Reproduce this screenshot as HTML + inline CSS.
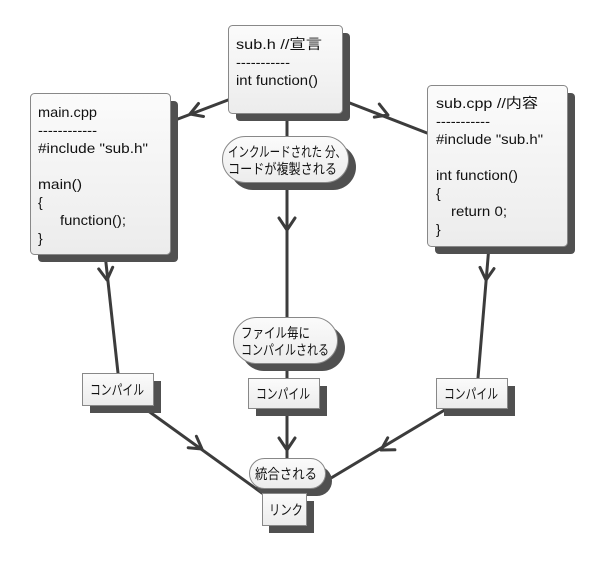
<!DOCTYPE html>
<html><head><meta charset="utf-8"><style>
html,body{margin:0;padding:0;background:#fff;}
svg text{font-family:"Liberation Sans","Noto Sans CJK JP",sans-serif;font-size:14px;fill:#111;}
</style></head><body>
<svg width="602" height="559" viewBox="0 0 602 559" xmlns="http://www.w3.org/2000/svg">
<defs>
<linearGradient id="g" x1="0" y1="0" x2="0" y2="1"><stop offset="0" stop-color="#fbfbfb"/><stop offset="1" stop-color="#ececec"/></linearGradient>
</defs>
<g stroke="#3c3c3c" stroke-width="3" fill="none" stroke-linecap="round" stroke-linejoin="round">
<line x1="228" y1="100" x2="170" y2="122"/>
<polyline points="198.5,103.5 190,114 203.5,116.5"/>
<line x1="342" y1="100" x2="427" y2="133"/>
<polyline points="374.3,117.1 388,115 379.3,104.1"/>
<line x1="287" y1="113" x2="287" y2="460"/>
<polyline points="279,218 287,230 295,218"/>
<polyline points="279,438 287,450 295,438"/>
<line x1="105" y1="254" x2="118" y2="373"/>
<polyline points="98.7,268.9 107,280 112.7,267.3"/>
<line x1="489" y1="246" x2="478" y2="378"/>
<polyline points="480,267.4 486,280 494,268.6"/>
<line x1="140" y1="405" x2="262" y2="493"/>
<polyline points="188.2,447.7 202,449 196.4,436.3"/>
<line x1="448" y1="408" x2="306" y2="493"/>
<polyline points="387.7,437.8 381,450 394.9,449.8"/>
</g>
<g fill="#505050">
<rect x="236" y="33" width="114" height="88" rx="4"/>
<rect x="38" y="101" width="140" height="161" rx="4"/>
<rect x="435" y="93" width="140" height="161" rx="4"/>
<rect x="230" y="144" width="126" height="46" rx="23"/>
<rect x="241" y="325" width="104" height="46" rx="23"/>
<rect x="90" y="381" width="71" height="32"/>
<rect x="256" y="386" width="71" height="30"/>
<rect x="444" y="386" width="71" height="30"/>
<rect x="255" y="466" width="77" height="30" rx="15"/>
<rect x="269" y="501" width="45" height="32"/>
</g>
<g fill="url(#g)" stroke="#888" stroke-width="1">
<rect x="228.5" y="25.5" width="114" height="88" rx="4"/>
<rect x="30.5" y="93.5" width="140" height="161" rx="4"/>
<rect x="427.5" y="85.5" width="140" height="161" rx="4"/>
<rect x="222.5" y="136.5" width="126" height="46" rx="23"/>
<rect x="233.5" y="317.5" width="104" height="46" rx="23"/>
<rect x="82.5" y="373.5" width="71" height="32"/>
<rect x="248.5" y="378.5" width="71" height="30"/>
<rect x="436.5" y="378.5" width="71" height="30"/>
<rect x="249.5" y="458.5" width="76" height="30" rx="15"/>
<rect x="262.5" y="493.5" width="44" height="32"/>
</g>
<text x="236" y="49" textLength="86" lengthAdjust="spacingAndGlyphs">sub.h  //宣言</text>
<text x="236" y="67" textLength="54" lengthAdjust="spacingAndGlyphs">-----------</text>
<text x="236" y="85" textLength="82" lengthAdjust="spacingAndGlyphs">int function()</text>
<text x="38" y="117" textLength="59" lengthAdjust="spacingAndGlyphs">main.cpp</text>
<text x="38" y="135" textLength="59" lengthAdjust="spacingAndGlyphs">------------</text>
<text x="38" y="153" textLength="110" lengthAdjust="spacingAndGlyphs">#include "sub.h"</text>
<text x="38" y="189" textLength="44" lengthAdjust="spacingAndGlyphs">main()</text>
<text x="38" y="207">{</text>
<text x="60" y="225" textLength="66" lengthAdjust="spacingAndGlyphs">function();</text>
<text x="38" y="243">}</text>
<text x="436" y="108" textLength="102" lengthAdjust="spacingAndGlyphs">sub.cpp  //内容</text>
<text x="436" y="126" textLength="54" lengthAdjust="spacingAndGlyphs">-----------</text>
<text x="436" y="144" textLength="107" lengthAdjust="spacingAndGlyphs">#include "sub.h"</text>
<text x="436" y="180" textLength="82" lengthAdjust="spacingAndGlyphs">int function()</text>
<text x="436" y="198">{</text>
<text x="451" y="216" textLength="56" lengthAdjust="spacingAndGlyphs">return 0;</text>
<text x="436" y="234">}</text>
<text x="228" y="157" textLength="118" lengthAdjust="spacingAndGlyphs">インクルードされた 分、</text>
<text x="228" y="174" textLength="109" lengthAdjust="spacingAndGlyphs">コードが複製される</text>
<text x="241" y="338" textLength="69" lengthAdjust="spacingAndGlyphs">ファイル毎に</text>
<text x="241" y="355" textLength="88" lengthAdjust="spacingAndGlyphs">コンパイルされる</text>
<text x="90" y="395" textLength="54" lengthAdjust="spacingAndGlyphs">コンパイル</text>
<text x="256" y="399" textLength="54" lengthAdjust="spacingAndGlyphs">コンパイル</text>
<text x="444" y="399" textLength="54" lengthAdjust="spacingAndGlyphs">コンパイル</text>
<text x="255" y="479" textLength="62" lengthAdjust="spacingAndGlyphs">統合される</text>
<text x="269" y="515" textLength="34" lengthAdjust="spacingAndGlyphs">リンク</text>
</svg>
</body></html>
